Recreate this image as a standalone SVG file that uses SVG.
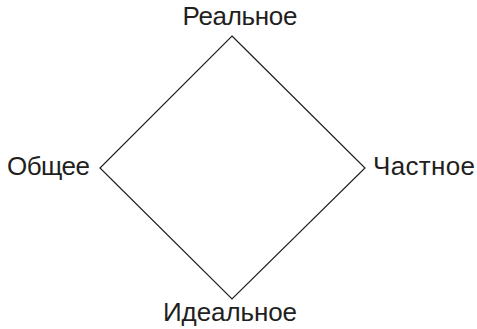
<svg xmlns="http://www.w3.org/2000/svg" width="477" height="329" viewBox="0 0 477 329">
<style>
.lbl{font-family:"Liberation Sans",Arial,sans-serif;font-size:26px;fill:#231f20}
.edge{fill:none;stroke:#231f20;stroke-width:1.2}
</style>
<rect width="477" height="329" fill="#ffffff"/>
<g id="connectors">
<path class="edge" d="M232,36 L365,168 L232,299 L100,168 Z"/>
</g>
<g id="real"><text class="lbl" x="240" y="25" text-anchor="middle" textLength="115">Реальное</text></g>
<g id="obshchee"><text class="lbl" x="7" y="175" textLength="83">Общее</text></g>
<g id="chastnoe"><text class="lbl" x="373" y="175" textLength="102">Частное</text></g>
<g id="idealnoe"><text class="lbl" x="230" y="321" text-anchor="middle" textLength="134">Идеальное</text></g>
</svg>
